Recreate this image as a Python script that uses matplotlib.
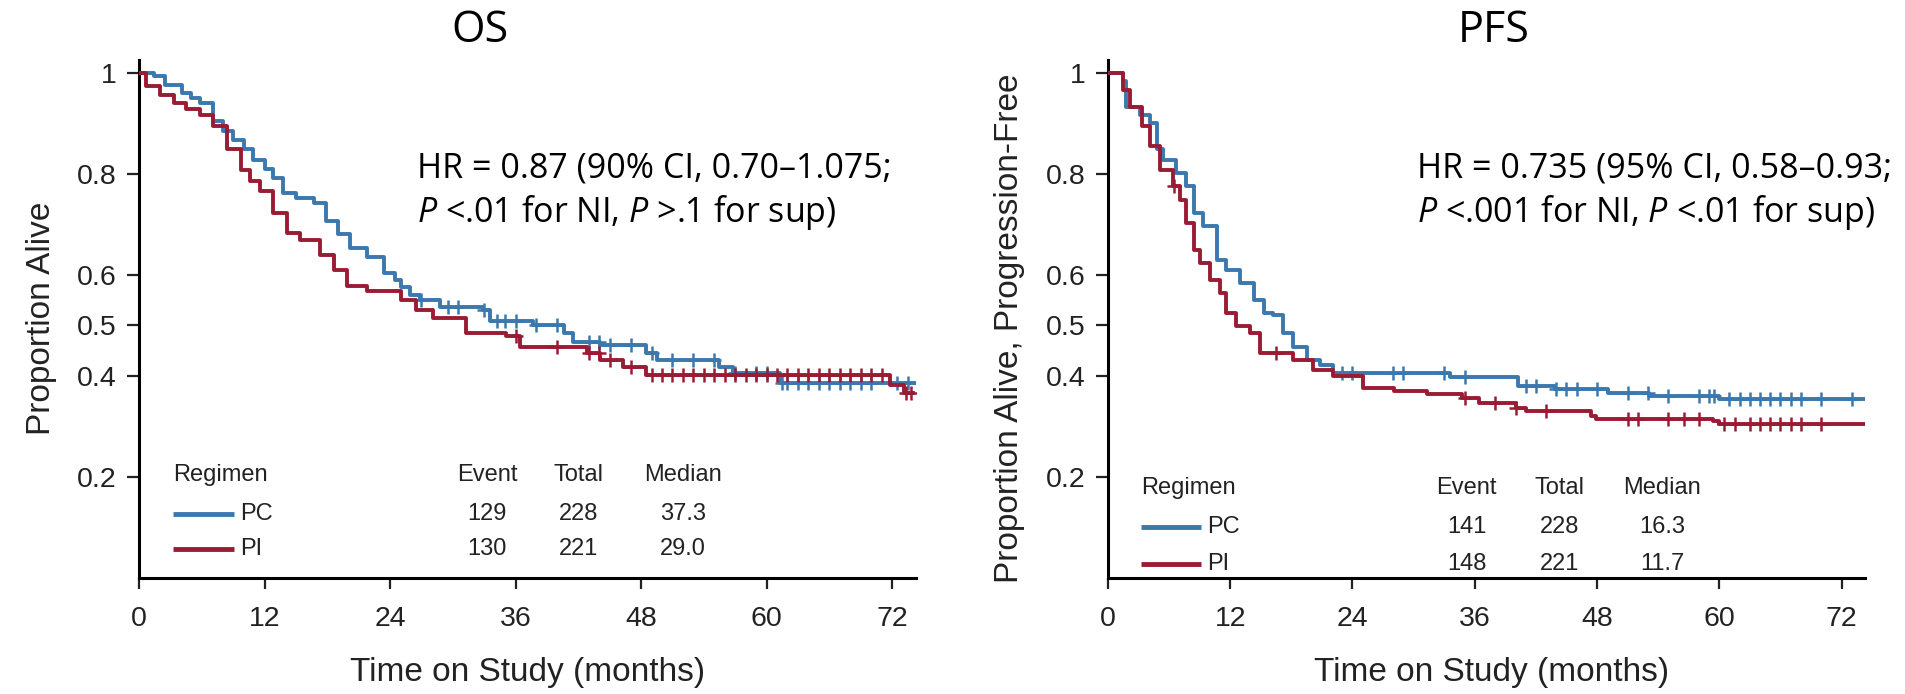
import numpy as np
import matplotlib
matplotlib.use('Agg')
import matplotlib.pyplot as plt

plt.rcParams['font.family'] = ['Liberation Sans', 'DejaVu Sans']
plt.rcParams['mathtext.fontset'] = 'custom'
plt.rcParams['mathtext.rm'] = 'Open Sans'
plt.rcParams['mathtext.it'] = 'Open Sans:italic'

BLUE = '#3b78ad'
RED = '#9a1c34'
NARROW = ['Liberation Sans Narrow', 'Liberation Sans', 'DejaVu Sans']

# OS, PC arm
os_pc_t = [0, 1.4, 2.5, 4.1, 5.0, 5.8, 7.1, 8.0, 9.0, 10.0, 10.9, 12.0, 12.8, 13.8, 15.0,
           16.7, 17.9, 19.0, 20.2, 21.8, 23.4, 24.5, 25.0, 25.9, 26.9, 28.8, 32.9, 33.6,
           37.7, 40.6, 41.5, 44.1, 48.5, 49.5, 55.5, 56.8, 61.3, 74.3]
os_pc_s = [1.0, 0.993, 0.975, 0.960, 0.950, 0.940, 0.904, 0.885, 0.867, 0.848, 0.828, 0.810,
           0.791, 0.762, 0.752, 0.742, 0.706, 0.680, 0.653, 0.636, 0.603, 0.590, 0.575, 0.560,
           0.550, 0.537, 0.531, 0.508, 0.501, 0.485, 0.468, 0.461, 0.445, 0.432, 0.418, 0.405,
           0.386, 0.386]
os_pc_cens = [27, 29.5, 30.5, 33, 34.2, 35, 36, 38, 40, 43, 44, 45, 47, 49, 51, 53, 55, 57,
              59, 60, 61.5, 62, 63, 64, 65, 66, 67, 68, 69, 70, 72.5, 73.5]

# OS, PI arm
os_pi_t = [0, 0.7, 2.0, 3.3, 4.5, 5.8, 7.1, 8.4, 9.7, 10.6, 11.6, 12.8, 14.1, 15.4, 17.3,
           18.6, 19.9, 21.8, 25.0, 26.5, 28.1, 31.3, 35.1, 36.4, 42.8, 44.1, 46.3, 48.5,
           71.8, 73.1, 74.0]
os_pi_s = [1.0, 0.973, 0.955, 0.940, 0.928, 0.917, 0.894, 0.848, 0.808, 0.785, 0.765, 0.722,
           0.683, 0.669, 0.640, 0.610, 0.577, 0.567, 0.550, 0.531, 0.514, 0.485, 0.478, 0.458,
           0.445, 0.432, 0.418, 0.402, 0.382, 0.366, 0.366]
os_pi_cens = [36, 40, 43, 44, 45, 47, 49, 50, 51, 52, 53, 54, 55, 56, 57, 58, 59, 60, 61,
              62, 63, 64, 65, 66, 67, 68, 69, 70, 71, 73.3, 73.8]

# PFS, PC arm
pfs_pc_t = [0, 1.5, 1.8, 3.1, 4.1, 4.8, 5.4, 6.7, 7.7, 8.4, 9.35, 10.7, 11.6, 13.0, 14.3,
            15.3, 16.2, 17.2, 18.2, 19.5, 20.8, 22.1, 33.6, 40.2, 43.9, 49.1, 53.1, 60.0, 74.3]
pfs_pc_s = [1.0, 0.983, 0.933, 0.917, 0.900, 0.848, 0.828, 0.801, 0.775, 0.722, 0.696, 0.630,
            0.610, 0.584, 0.550, 0.524, 0.521, 0.485, 0.458, 0.432, 0.422, 0.405, 0.397, 0.380,
            0.375, 0.367, 0.360, 0.354, 0.354]
pfs_pc_cens = [23, 24, 28, 29, 33, 35, 41, 42, 44, 45, 46, 48, 51, 53, 55, 58, 59, 59.5,
               61, 62, 63, 64, 65, 66, 67, 68, 70, 73]

# PFS, PI arm
pfs_pi_t = [0, 1.5, 2.2, 3.3, 4.1, 5.1, 6.4, 7.1, 7.7, 8.4, 9.0, 10.0, 11.0, 11.6, 12.6,
            13.9, 14.9, 18.2, 20.1, 22.1, 25.0, 28.1, 31.3, 34.7, 36.4, 40.0, 41.0, 47.4,
            47.9, 59.4, 60.0, 74.3]
pfs_pi_s = [1.0, 0.966, 0.933, 0.894, 0.854, 0.808, 0.775, 0.749, 0.702, 0.650, 0.623, 0.590,
            0.564, 0.524, 0.498, 0.485, 0.445, 0.432, 0.412, 0.399, 0.377, 0.370, 0.364, 0.357,
            0.347, 0.337, 0.330, 0.321, 0.315, 0.311, 0.304, 0.304]
pfs_pi_cens = [6.5, 16.5, 35, 38, 40, 43, 51, 52, 55, 56.5, 58, 60.5, 61.5, 63, 64, 65,
               66, 67, 68, 70]

os_table = [['PC', '129', '228', '37.3'], ['PI', '130', '221', '29.0']]
pfs_table = [['PC', '141', '228', '16.3'], ['PI', '148', '221', '11.7']]

os_hr = ['HR = 0.87 (90% CI, 0.70\u20131.075;', '$P$ <.01 for NI, $P$ >.1 for sup)']
pfs_hr = ['HR = 0.735 (95% CI, 0.58\u20130.93;', '$P$ <.001 for NI, $P$ <.01 for sup)']

yticks = [0.2, 0.4, 0.5, 0.6, 0.8, 1.0]
ytick_labels = ['0.2', '0.4', '0.5', '0.6', '0.8', '1']
xticks = [0, 12, 24, 36, 48, 60, 72]


def step_value(t, s, c):
    i = np.searchsorted(t, c, side='right') - 1
    return np.asarray(s)[i]


fig = plt.figure(figsize=(19.05, 6.94), dpi=100)
ax1 = fig.add_axes([0.0730, 0.1671, 0.4079, 0.7464])
ax2 = fig.add_axes([0.5816, 0.1671, 0.3974, 0.7464])


def km_panel(ax, curves, table, hr, hr_x, ylabel, ylab_x, ylab_y, xlab_x, cols, rows_y):
    for t, s, cens, col in curves:
        ax.plot(t, s, drawstyle='steps-post', color=col, lw=2.8, zorder=3)
        ax.plot(cens, step_value(t, s, cens), ls='none', marker='+', ms=10, mew=1.8,
                color=col, zorder=3)
    ax.set_xlim(0, 74.3)
    ax.set_ylim(0, 1.025)
    ax.set_xticks(xticks)
    ax.set_yticks(yticks)
    ax.set_yticklabels(ytick_labels)
    for side in ['top', 'right']:
        ax.spines[side].set_visible(False)
    for side in ['left', 'bottom']:
        ax.spines[side].set_linewidth(2.2)
    ax.tick_params(axis='y', direction='out', length=9, width=1.6, pad=7, labelsize=20.5,
                   colors='#222222')
    ax.tick_params(axis='x', direction='out', length=8, width=1.6, pad=12, labelsize=20.5,
                   colors='#222222')
    ax.set_ylabel(ylabel, fontsize=24, color='#222222', va='center')
    ax.yaxis.set_label_coords(ylab_x, ylab_y)
    ax.set_xlabel('Time on Study (months)', fontsize=24, color='#222222', va='center')
    ax.xaxis.set_label_coords(xlab_x, -0.183)

    # table-style legend
    ax.text(3.25, rows_y[0], 'Regimen', fontsize=17, family=NARROW, va='center', ha='left',
            color='#222222')
    for name, x in zip(['Event', 'Total', 'Median'], cols):
        ax.text(x, rows_y[0], name, fontsize=17, family=NARROW, va='center', ha='center',
                color='#222222')
    for row, y, col in zip(table, rows_y[1:], [BLUE, RED]):
        ax.plot([3.25, 9.1], [y, y], color=col, lw=3.5, solid_capstyle='butt')
        ax.text(9.7, y, row[0], fontsize=17, family=NARROW, va='center', ha='left',
                color='#222222')
        for val, x in zip(row[1:], cols):
            ax.text(x, y, val, fontsize=17, family=NARROW, va='center', ha='center',
                    color='#222222')

    ax.text(hr_x, 0.792, hr[0], fontsize=24.5, family='Open Sans', ha='left', va='baseline')
    ax.text(hr_x, 0.705, hr[1], fontsize=24.5, family='Open Sans', ha='left', va='baseline')


km_panel(ax1, [(os_pc_t, os_pc_s, os_pc_cens, BLUE), (os_pi_t, os_pi_s, os_pi_cens, RED)],
         os_table, os_hr, 26.6, 'Proportion Alive', -0.126, 0.502, 0.5,
         [33.3, 42.0, 52.0], [0.204, 0.127, 0.057])
km_panel(ax2, [(pfs_pc_t, pfs_pc_s, pfs_pc_cens, BLUE), (pfs_pi_t, pfs_pi_s, pfs_pi_cens, RED)],
         pfs_table, pfs_hr, 30.3, 'Proportion Alive, Progression-Free', -0.13, 0.483, 0.507,
         [35.2, 44.3, 54.4], [0.178, 0.101, 0.028])

fig.text(480 / 1905, 1 - 31 / 694, 'OS', fontsize=31, family='Open Sans', ha='center', va='center')
fig.text(1494 / 1905, 1 - 31 / 694, 'PFS', fontsize=31, family='Open Sans', ha='center', va='center')

fig.savefig('out.png', dpi=100)
